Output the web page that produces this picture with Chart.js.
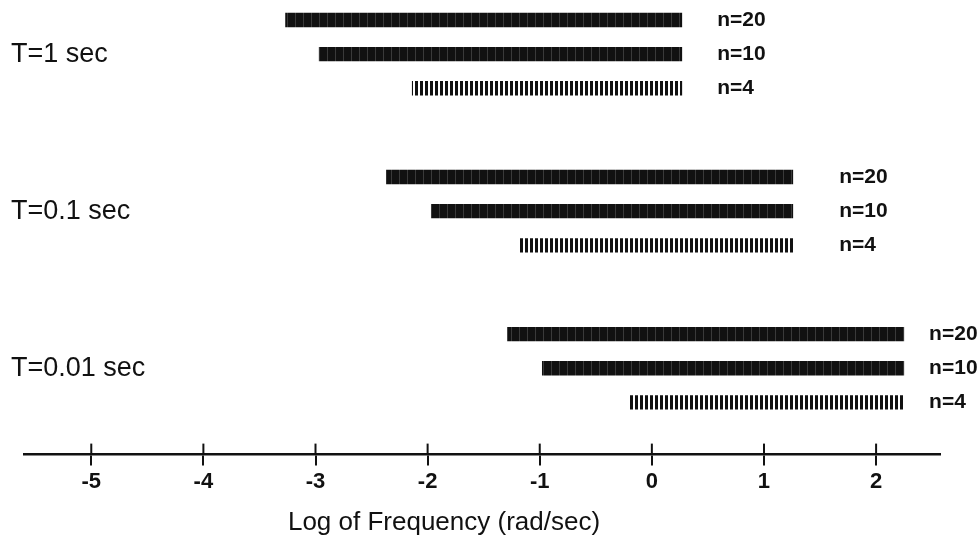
<!DOCTYPE html>
<html lang="en">
<head>
    <meta charset="UTF-8">
    <title>Frequency ranges by sample time</title>
    <script src="https://cdn.jsdelivr.net/npm/chart.js"></script>
    <style>
        body {
            background-color: #ffffff;
            margin: 0;
        }
        .chart-container {
            width: 980px;
            height: 541px;
        }
    </style>
</head>
<body>
    <div class="chart-container">
        <canvas id="rangeChart"></canvas>
    </div>

    <script>
        // groups (rows of three bars each) and the series inside a group
        const groups = ['T=1 sec', 'T=0.1 sec', 'T=0.01 sec'];
        const seriesNames = ['n=20', 'n=10', 'n=4'];

        // left end of each bar, log10 of frequency
        const startN20 = [-3.27, -2.37, -1.29];
        const startN10 = [-2.97, -1.97, -0.98];
        const startN4 = [-2.14, -1.19, -0.20];
        // right end, shared by the three bars of a group
        const endAll = [0.27, 1.26, 2.25];

        const xTicks = [-5, -4, -3, -2, -1, 0, 1, 2];
        const axisTitle = 'Log of Frequency (rad/sec)';

        const ink = '#111111';
        const labelGap = [35, 46, 25]; // px between bar end and its n= label

        // fills: dense black for n=20 / n=10, vertical hatching for n=4
        function makePattern(period, dark, gapColor) {
            const c = document.createElement('canvas');
            c.width = period;
            c.height = 4;
            const g = c.getContext('2d');
            g.fillStyle = gapColor;
            g.fillRect(0, 0, period, 4);
            g.fillStyle = ink;
            g.fillRect(0, 0, dark, 4);
            return g.createPattern(c, 'repeat');
        }
        const solidFill = makePattern(8, 7, '#3a3a3a');
        const hatchFill = makePattern(5, 3, '#ffffff');

        const starts = [startN20, startN10, startN4];

        const endLabels = {
            id: 'endLabels',
            afterDatasetsDraw(chart) {
                const ctx = chart.ctx;
                ctx.save();
                ctx.font = 'bold 21px "Liberation Sans", Arial, sans-serif';
                ctx.fillStyle = ink;
                ctx.textBaseline = 'middle';
                ctx.textAlign = 'left';
                chart.data.datasets.forEach((ds, k) => {
                    chart.getDatasetMeta(k).data.forEach((bar, i) => {
                        const right = Math.max(bar.x, bar.base);
                        ctx.fillText(ds.label, right + labelGap[i], bar.y);
                    });
                });
                ctx.restore();
            }
        };

        // tick marks cross the axis line, plus the axis title
        const axisExtras = {
            id: 'axisExtras',
            afterDraw(chart) {
                const sc = chart.scales.x;
                const ctx = chart.ctx;
                ctx.save();
                ctx.strokeStyle = ink;
                ctx.lineWidth = 2;
                sc.ticks.forEach((t, i) => {
                    const px = sc.getPixelForTick(i);
                    ctx.beginPath();
                    ctx.moveTo(px, sc.top - 11);
                    ctx.lineTo(px, sc.top);
                    ctx.stroke();
                });
                ctx.font = '26px "Liberation Sans", Arial, sans-serif';
                ctx.fillStyle = ink;
                ctx.textAlign = 'center';
                ctx.textBaseline = 'middle';
                ctx.fillText(axisTitle, 444, 523);
                ctx.restore();
            }
        };

        const ctx = document.getElementById('rangeChart').getContext('2d');

        const rangeChart = new Chart(ctx, {
            type: 'bar',
            data: {
                datasets: seriesNames.map((name, k) => ({
                    label: name,
                    data: groups.map((g, i) => ({ y: i, x: [starts[k][i], endAll[i]] })),
                    backgroundColor: k === 2 ? hatchFill : solidFill,
                    borderWidth: 0,
                    categoryPercentage: 0.652,
                    barPercentage: 0.42
                }))
            },
            options: {
                indexAxis: 'y',
                responsive: true,
                maintainAspectRatio: false,
                animation: false,
                layout: {
                    padding: { left: 24, right: 40, top: 0, bottom: 43 }
                },
                plugins: {
                    legend: { display: false },
                    tooltip: { enabled: false }
                },
                scales: {
                    x: {
                        type: 'linear',
                        min: -5.6,
                        max: 2.57,
                        afterBuildTicks: (sc) => { sc.ticks = xTicks.map(v => ({ value: v })); },
                        grid: {
                            display: true,
                            drawOnChartArea: false,
                            drawTicks: true,
                            tickLength: 11,
                            color: ink,
                            lineWidth: 2
                        },
                        border: { display: true, color: ink, width: 2.5 },
                        ticks: {
                            color: ink,
                            padding: 3,
                            autoSkip: false,
                            maxRotation: 0,
                            font: { family: '"Liberation Sans", Arial, sans-serif', size: 22, weight: 'bold' },
                            callback: (v) => String(v)
                        }
                    },
                    y: {
                        type: 'linear',
                        offset: false,
                        reverse: true,
                        min: -0.286,
                        max: 2.55,
                        afterBuildTicks: (sc) => { sc.ticks = groups.map((g, i) => ({ value: i })); },
                        grid: { display: false, offset: false },
                        border: { display: false },
                        ticks: {
                            mirror: true,
                            padding: -7,
                            color: ink,
                            font: { family: '"Liberation Sans", Arial, sans-serif', size: 27 },
                            callback: (v) => groups[v]
                        }
                    }
                }
            },
            plugins: [endLabels, axisExtras]
        });
    </script>
</body>
</html>
